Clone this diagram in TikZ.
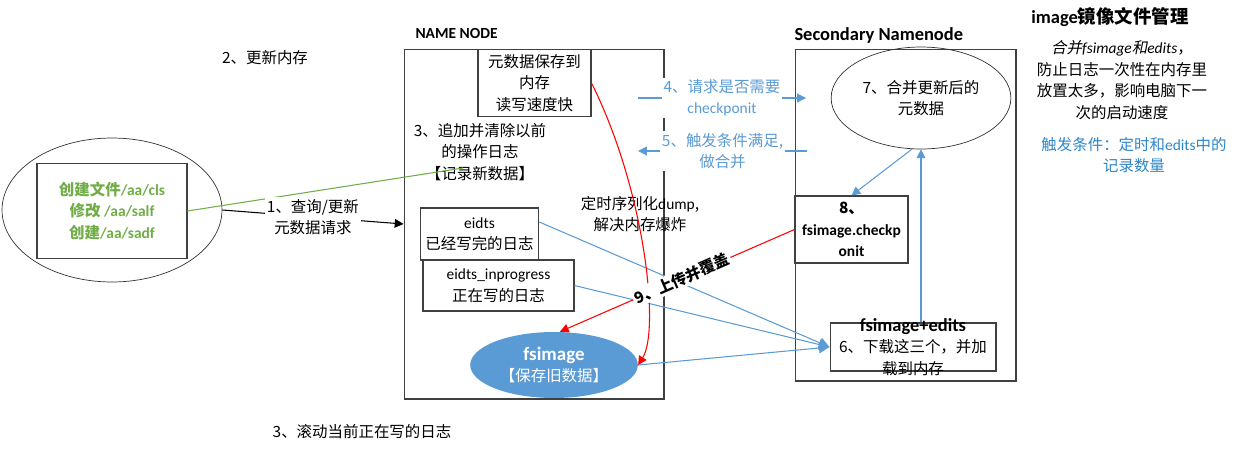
\documentclass[tikz,border=0pt]{standalone}
\usepackage{fontspec}
\setmainfont{Noto Sans CJK SC}
\newfontfamily\latfont{Carlito}
\newfontfamily\slantfont[FakeSlant=0.2]{Noto Sans CJK SC}
\newcommand{\la}[1]{{\latfont #1}}
\newcommand{\bigger}{\fontsize{10.5}{13}\selectfont}
\usetikzlibrary{positioning, arrows.meta, shapes.geometric}
\definecolor{hblue}{RGB}{91,155,213}
\definecolor{hgreen}{RGB}{112,173,71}
\definecolor{tblue}{RGB}{46,134,200}
\AtBeginDocument{\fontsize{8.8}{12.2}\selectfont}

\begin{document}
\begin{tikzpicture}[x=0.02cm, y=-0.02cm, >=Stealth,
    box/.style={draw=black!75, line width=0.6pt, align=center},
    lbl/.style={align=center, inner sep=1pt},
    blueline/.style={draw=hblue, line width=0.6pt},
    bluetip/.style={-{Triangle[length=6pt, width=6pt]}},
    smalltip/.style={-{Triangle[length=5pt, width=5pt]}}]
    \useasboundingbox (0,0) rectangle (1239,450);

    % Nodes
    \node[draw=black!80, ellipse, minimum width=4.4cm, minimum height=2.88cm] (Client) at (112,210) {};
    \node[box, minimum width=3cm, minimum height=1.9cm, text=hgreen, font=\bfseries] (ClientBox) at (112,211)
        {创建文件\la{/aa/cls}\\修改 \la{/aa/salf}\\创建\la{/aa/sadf}};
    \node (UpdateMem) at (265,58) {2、更新内存};
    \node (RollLog) at (362,432) {3、滚动当前正在写的日志};

    \node[box, minimum width=5.2cm, minimum height=7cm] (NameNode) at (534,224) {};
    \node[font=\bfseries, anchor=west] (NameTitle) at (410,33) {\la{NAME NODE}};
    \node[box, minimum width=2.26cm, minimum height=1.34cm] (MemBox) at (534.5,83)
        {元数据保存到\\内存\\读写速度快};
    \node[lbl] (AppendLog) at (480,152) {3、追加并清除以前\\的操作日志\\【记录新数据】};
    \node[lbl] (DumpNote) at (640,214) {定时序列化\la{dump},\\解决内存爆炸};
    \node[box, minimum width=2.26cm, minimum height=1.04cm] (EditsBox) at (479.5,234)
        {\la{eidts}\\已经写完的日志};
    \node[box, minimum width=3.02cm, minimum height=1.02cm] (InProgBox) at (498.5,285.5)
        {\la{eidts\_inprogress}\\正在写的日志};
    \node[ellipse, fill=hblue, text=white, align=center, minimum width=3.04cm, minimum height=1.32cm] (FsImage) at (554,365)
        {{\fontsize{10.8}{12.2}\selectfont\bfseries\la{fsimage}}\\【保存旧数据】};

    \node[box, minimum width=4.42cm, minimum height=6.64cm] (SecNode) at (905.5,215) {};
    \node[font=\bigger\bfseries, anchor=west] (SecTitle) at (789,35) {\la{Secondary Namenode}};
    \node[draw=black!80, ellipse, align=center, minimum width=3.04cm, minimum height=2.04cm] (MergeEll) at (921,98)
        {7、合并更新后的\\元数据};
    \node[box, font=\bfseries, minimum width=2.26cm, minimum height=1.34cm] (CkptBox) at (851.5,229.5)
        {8、\\\la{fsimage.checkp}\\\la{onit}};
    \node[box, minimum width=3.32cm, minimum height=0.96cm] (LoadBox) at (913,347) {};
    \node[lbl] (LoadText) at (913,347)
        {{\bigger\bfseries\la{fsimage+edits}}\\6、下载这三个，并加\\载到内存};

    \node[font=\bigger\bfseries] (MgmtTitle) at (1110,17) {\la{image}镜像文件管理};
    \node[lbl] (MgmtNote) at (1122,80)
        {{\slantfont 合并}{\latfont\itshape fsimage}{\slantfont 和}{\latfont\itshape edits}，\\防止日志一次性在内存里\\放置太多，影响电脑下一\\次的启动速度};
    \node[lbl, text=tblue] (TriggerNote) at (1134,155) {触发条件：定时和\la{edits}中的\\记录数量};

    \coordinate (GreenEnd) at (463,168);
    \coordinate (AskFrom) at (638,98);
    \coordinate (AskTo) at (806,98);
    \coordinate (FireFrom) at (807,151);
    \coordinate (FireTo) at (638,151);

    % Arrows
    \draw[hgreen, line width=0.6pt] (ClientBox.east) -- (GreenEnd);
    \draw[smalltip, line width=0.6pt] (Client.east) -- node[lbl, fill=white] {1、查询/更新\\元数据请求} (NameNode.west);

    \draw[blueline, smalltip] (AskFrom) -- node[lbl, fill=white, text=hblue] {4、请求是否需要\\\la{checkponit}} (AskTo);
    \draw[blueline, smalltip] (FireFrom) -- node[lbl, fill=white, text=hblue] {5、触发条件满足,\\做合并} (FireTo);

    \draw[blueline, bluetip] ([yshift=0.24cm]EditsBox.east) -- (LoadBox.west);
    \draw[blueline, bluetip] (InProgBox.east) -- (LoadBox.west);
    \draw[blueline, bluetip] (FsImage.east) -- (LoadBox.west);
    \draw[blueline, smalltip] (MergeEll.south |- LoadBox.north) -- (MergeEll.south);
    \draw[blueline, smalltip] (MergeEll.260) -- (CkptBox.north);

    \draw[red, line width=0.6pt, smalltip] (MemBox.east) .. controls (645,190) and (660,330) .. (FsImage.east);
    \draw[red, line width=0.6pt, smalltip] (CkptBox.west) -- node[pos=0.48, sloped, fill=white, text=black, inner sep=1pt, font=\bfseries] {9、上传并覆盖} (FsImage.80);
\end{tikzpicture}
\end{document}
